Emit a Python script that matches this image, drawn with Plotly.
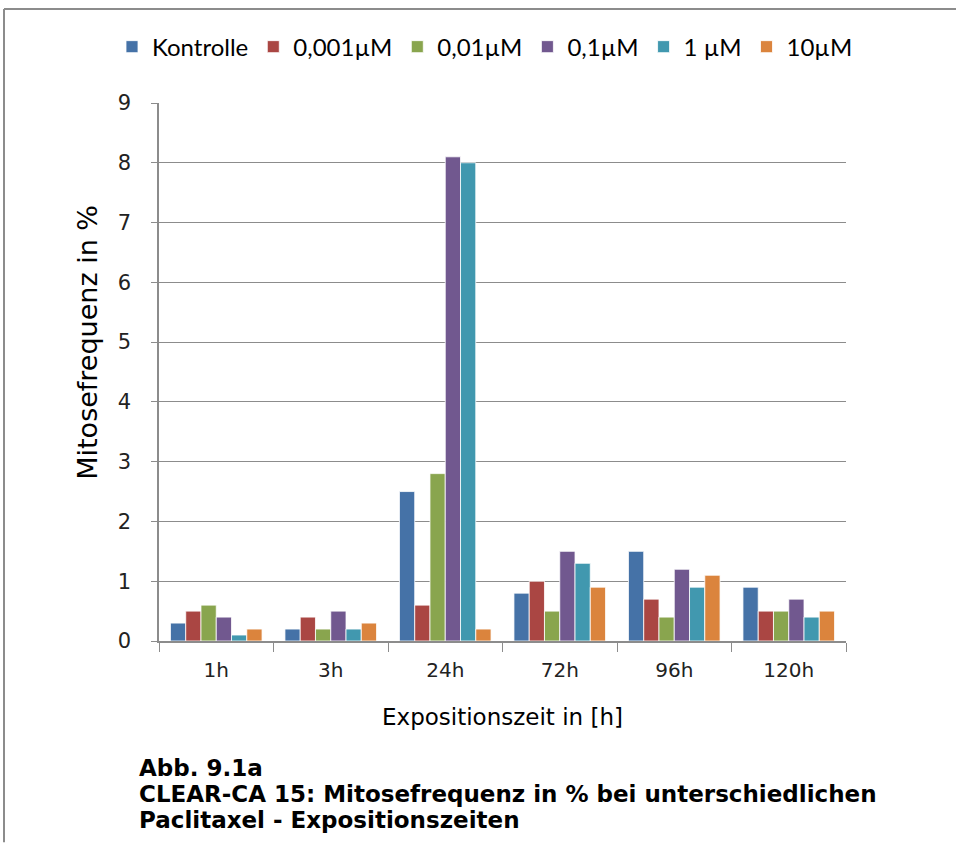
import plotly.graph_objects as go

categories = ["1h", "3h", "24h", "72h", "96h", "120h"]
series_names = ["Kontrolle", "0,001µM", "0,01µM", "0,1µM", "1 µM", "10µM"]
kontrolle = [0.3, 0.2, 2.5, 0.8, 1.5, 0.9]
c0001 = [0.5, 0.4, 0.6, 1.0, 0.7, 0.5]
c001 = [0.6, 0.2, 2.8, 0.5, 0.4, 0.5]
c01 = [0.4, 0.5, 8.1, 1.5, 1.2, 0.7]
c1 = [0.1, 0.2, 8.0, 1.3, 0.9, 0.4]
c10 = [0.2, 0.3, 0.2, 0.9, 1.1, 0.5]
y_ticks = [0, 1, 2, 3, 4, 5, 6, 7, 8, 9]

colors = ["#4572A7", "#AA4643", "#89A54E", "#71588F", "#4198AF", "#DB843D"]
all_series = [kontrolle, c0001, c001, c01, c1, c10]

fig = go.Figure()
for name, vals, col in zip(series_names, all_series, colors):
    fig.add_trace(go.Bar(x=categories, y=vals, name=name,
                         marker=dict(color=col, line=dict(color="white", width=0.8))))

OFF = 0  # body margin removed by post_script below
W, H = 956, 843
L, T = 159 - OFF, 103 - OFF
Rx, By = 846 - OFF, 641.5 - OFF
R, B = W - Rx, H - By
pw = W - L - R
ph = H - T - B


def px(x):
    return (x - OFF - L) / pw


def py(y):
    return 1 - (y - OFF - T) / ph


fig.update_layout(
    width=W, height=H,
    margin=dict(l=L, r=R, t=T, b=B, autoexpand=False),
    paper_bgcolor="white", plot_bgcolor="white",
    barmode="group", bargap=0.2, bargroupgap=0,
    font=dict(family="DejaVu Sans", color="black"),
    legend=dict(orientation="h", x=px(112), xanchor="left", y=py(47), yanchor="middle",
                bgcolor="rgba(0,0,0,0)",
                font=dict(family="Lato", size=24), itemwidth=30, traceorder="normal"),
    showlegend=True,
)

fig.update_xaxes(showline=True, linecolor="#8c8c8c", linewidth=1.5,
                 ticks="outside", tickson="boundaries", ticklen=9, tickcolor="#8c8c8c",
                 ticklabelstandoff=10,
                 tickfont=dict(size=20, color="#222"), showgrid=False,
                 title=dict(text="Expositionszeit in [h]", font=dict(size=23), standoff=28))
fig.update_yaxes(range=[0, 9], tickvals=y_ticks, showline=True, linecolor="#8c8c8c", linewidth=1.5,
                 ticks="outside", ticklen=6, tickcolor="#8c8c8c",
                 ticklabelstandoff=16,
                 showgrid=True, gridcolor="#8c8c8c", gridwidth=1.2,
                 tickfont=dict(size=21, color="#222"), zeroline=False)

fig.add_annotation(text="Mitosefrequenz in %", textangle=-90, xref="paper", yref="paper",
                   x=px(88), y=py(343), xanchor="center", yanchor="middle", showarrow=False,
                   font=dict(family="DejaVu Sans", size=27, color="black"))

# frame lines (left and top)
fx = px(4)
fy = py(9)
fig.add_shape(type="line", xref="paper", yref="paper",
              x0=fx, x1=fx, y0=-B / ph, y1=fy,
              line=dict(color="#8c8c8c", width=2))
fig.add_shape(type="line", xref="paper", yref="paper",
              x0=fx, x1=1 + R / pw, y0=fy, y1=fy,
              line=dict(color="#8c8c8c", width=2))

caption = ["Abb. 9.1a",
           "CLEAR-CA 15: Mitosefrequenz in % bei unterschiedlichen",
           "Paclitaxel - Expositionszeiten"]
cap_y = [769, 795, 821]
for line, ypx in zip(caption, cap_y):
    fig.add_annotation(text="<b>" + line + "</b>", xref="paper", yref="paper",
                       x=px(137), y=py(ypx), xanchor="left", yanchor="middle",
                       showarrow=False, font=dict(family="DejaVu Sans", size=23, color="black"))

fig.write_html("out.html",
               config={"displayModeBar": False},
               post_script="document.body.style.margin='0';"
                           "document.body.style.overflow='hidden';"
                           "document.documentElement.style.overflow='hidden';")
